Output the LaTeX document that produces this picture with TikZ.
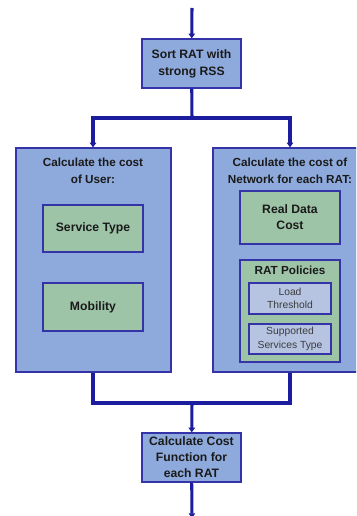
\documentclass[tikz,border=0pt]{standalone}
\usepackage{fontspec}
\setmainfont{Liberation Sans}
\usepackage{tikz}
\usetikzlibrary{arrows.meta,positioning,calc}
\definecolor{flowline}{HTML}{1C1C9E}
\definecolor{boxline}{HTML}{3434A8}
\definecolor{bluefill}{HTML}{8EAADC}
\definecolor{greenfill}{HTML}{9EC4A8}
\definecolor{palefill}{HTML}{B6C4E2}
\definecolor{ink}{HTML}{1A1A1A}
\tikzset{
  fbox/.style={draw=boxline,fill=bluefill,line width=1.1pt,align=center,inner sep=2pt,text=ink,font=\fontsize{10.4}{14.5}\selectfont\bfseries},
  gbox/.style={draw=boxline,fill=greenfill,line width=1.1pt,align=center,inner sep=2pt,text=ink,font=\fontsize{10.4}{13.5}\selectfont\bfseries},
  pbox/.style={draw=boxline,fill=palefill,line width=1pt,align=center,inner sep=1pt,text=ink!85,font=\fontsize{8.8}{11.6}\selectfont},
  ttl/.style={align=center,inner sep=0pt,text=ink,font=\fontsize{10}{14.5}\selectfont\bfseries},
  farr/.style={-{Triangle[length=4pt,width=5.5pt]},line width=2.6pt,draw=flowline},
  fline/.style={line width=2.6pt,draw=flowline}
}
\begin{document}
\begin{tikzpicture}[x=0.03cm,y=-0.03cm]
  \useasboundingbox (0,0) rectangle (356,516);
  \clip (0,0) rectangle (356,516);
  \node[fbox,minimum width=2.97cm,minimum height=1.47cm] (sort) at (191.5,63.5) {Sort RAT with\\strong RSS};
  \node[fbox,minimum width=4.65cm,minimum height=6.72cm] (user) at (93.5,260) {};
  \node[fbox,minimum width=4.35cm,minimum height=6.72cm] (net) at (285.5,260) {};
  \node[ttl] (usertitle) at (93,171) {Calculate the cost\\of User:};
  \node[ttl] (nettitle) at (290,171) {Calculate the cost of\\Network for each RAT:};
  \node[gbox,minimum width=3cm,minimum height=1.41cm] (service) at (93,228.5) {Service Type};
  \node[gbox,minimum width=3cm,minimum height=1.44cm] (mobility) at (93,307) {Mobility};
  \node[gbox,minimum width=3cm,minimum height=1.59cm] (realdata) at (290,217.5) {Real Data\\Cost};
  \node[gbox,minimum width=3cm,minimum height=3.06cm] (policies) at (290,311) {};
  \node[ttl] (poltitle) at (290,270) {RAT Policies};
  \node[pbox,minimum width=2.46cm,minimum height=0.93cm] (load) at (290,298.5) {Load\\Threshold};
  \node[pbox,minimum width=2.46cm,minimum height=0.9cm] (supp) at (290,339) {Supported\\Services Type};
  \node[fbox,minimum width=2.97cm,minimum height=1.47cm,font=\fontsize{10.4}{13.6}\selectfont\bfseries] (cost) at (191.5,457.5) {Calculate Cost\\Function for\\each RAT};
  \coordinate (start) at (192,8);
  \coordinate (split) at (192,118);
  \coordinate (merge) at (192,403);
  \coordinate (finish) at (192,518);
  \draw[farr] (start) -- (sort);
  \draw[fline] (sort) -- (split);
  \draw[farr] (split) -| (usertitle |- user.north);
  \draw[farr] (split) -| (nettitle |- net.north);
  \draw[fline] (usertitle |- user.south) |- (merge);
  \draw[fline] (nettitle |- net.south) |- (merge);
  \draw[farr] (merge) -- (cost);
  \draw[farr] (cost) -- (finish);
\end{tikzpicture}
\end{document}
